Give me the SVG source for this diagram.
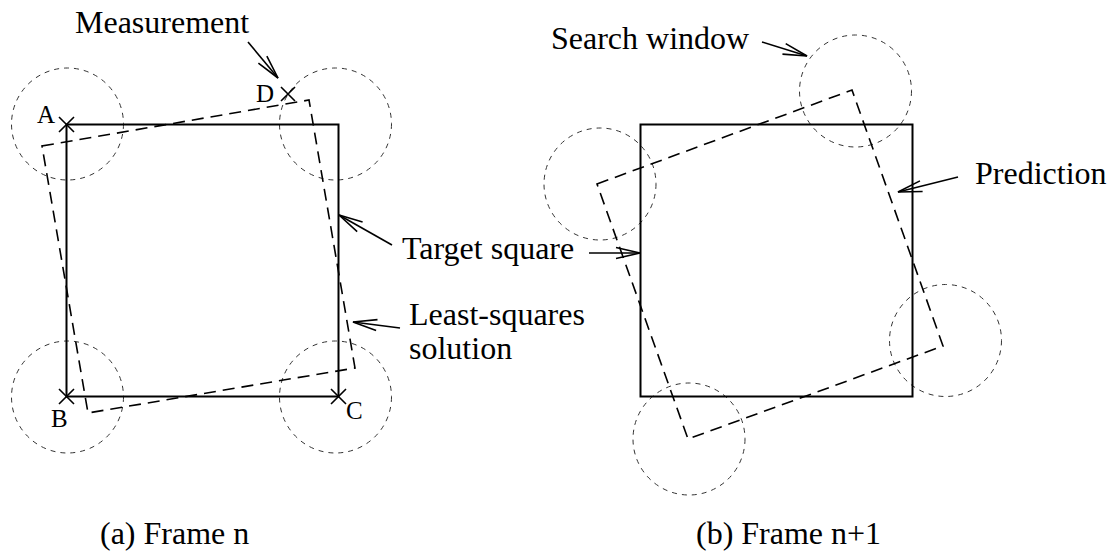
<svg xmlns="http://www.w3.org/2000/svg" width="1112" height="552" viewBox="0 0 1112 552">
<style>
  text { font-family: "Liberation Serif", "Times New Roman", serif; fill: #000; }
  .lbl { font-size: 32px; }
  .pt { font-size: 25px; }
  .sq { fill: none; stroke: #000; stroke-width: 2; }
  .est { fill: none; stroke: #000; stroke-width: 1.6; stroke-dasharray: 12 7; }
  .win { fill: none; stroke: #333; stroke-width: 1; stroke-dasharray: 5 5; }
  .x { stroke: #000; stroke-width: 1.6; fill: none; }
  .arr { stroke: #000; stroke-width: 1.6; fill: none; marker-end: url(#open); }
</style>
<defs>
  <marker id="open" markerUnits="userSpaceOnUse" markerWidth="30" markerHeight="16" refX="0" refY="0" viewBox="-26 -8 28 16" orient="auto" overflow="visible">
    <path d="M-24,-5.5 L0,0 L-24,5.5" fill="none" stroke="#000" stroke-width="1.6"/>
  </marker>
</defs>
<rect width="1112" height="552" fill="#fff"/>

<!-- Panel (a) -->
<g id="a-windows">
  <circle class="win" cx="67.5" cy="124" r="56"/>
  <circle class="win" cx="335.5" cy="124" r="56"/>
  <circle class="win" cx="67.5" cy="397" r="56"/>
  <circle class="win" cx="335.5" cy="397" r="56"/>
</g>
<g id="a-target-square">
  <rect class="sq" x="66.5" y="124.5" width="272" height="272"/>
</g>
<g id="a-least-squares">
  <polygon class="est" points="42,146 309,100 355,368 88,413"/>
</g>
<g id="a-measurements">
  <path class="x" d="M59,117 L74,132 M74,117 L59,132"/>
  <path class="x" d="M59,389 L74,404 M74,389 L59,404"/>
  <path class="x" d="M331,389 L346,404 M346,389 L331,404"/>
  <path class="x" d="M281,87 L295,101 M295,87 L281,101"/>
  <text class="pt" x="37" y="123">A</text>
  <text class="pt" x="51" y="427">B</text>
  <text class="pt" x="346" y="419">C</text>
  <text class="pt" x="256" y="102">D</text>
</g>
<g id="a-labels">
  <text class="lbl" x="75" y="33">Measurement</text>
  <text class="lbl" x="402" y="259">Target square</text>
  <text class="lbl" x="409" y="325">Least-squares</text>
  <text class="lbl" x="409" y="359">solution</text>
  <text class="lbl" x="100" y="544">(a) Frame n</text>
</g>

<!-- Panel (b) -->
<g id="b-windows">
  <circle class="win" cx="855.5" cy="91" r="56"/>
  <circle class="win" cx="600" cy="184" r="56"/>
  <circle class="win" cx="945.5" cy="340.5" r="56"/>
  <circle class="win" cx="689" cy="439" r="56"/>
</g>
<g id="b-target-square">
  <rect class="sq" x="640.5" y="124.5" width="272" height="272"/>
</g>
<g id="b-prediction">
  <polygon class="est" points="597,184 852,90 943,346 688,439"/>
</g>
<g id="b-labels">
  <text class="lbl" x="551" y="49">Search window</text>
  <text class="lbl" x="975" y="184">Prediction</text>
  <text class="lbl" x="696" y="544">(b) Frame n+1</text>
</g>

<!-- Connectors -->
<g id="connectors">
  <line class="arr" x1="248" y1="42" x2="278" y2="78"/>
  <line class="arr" x1="392" y1="245" x2="339" y2="215"/>
  <line class="arr" x1="400" y1="328" x2="353" y2="322"/>
  <line class="arr" x1="762" y1="42" x2="807" y2="56"/>
  <line class="arr" x1="958" y1="177" x2="898" y2="192"/>
  <line class="arr" x1="589" y1="253" x2="640" y2="253"/>
</g>
</svg>
